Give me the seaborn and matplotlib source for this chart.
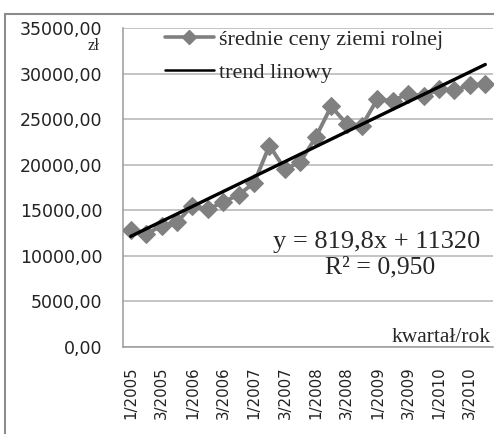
import numpy as np
import pandas as pd
import matplotlib
matplotlib.use('Agg')
import matplotlib.pyplot as plt
import seaborn as sns
from matplotlib.lines import Line2D
from matplotlib.patches import Rectangle

# Quarterly average farmland prices, 1/2005 - 4/2010 (zł per ha)
quarters = [f'{q}/{y}' for y in range(2005, 2011) for q in range(1, 5)]
prices = [12800, 12400, 13300, 13700, 15500, 15100, 15900, 16700,
          18000, 22100, 19500, 20300, 23000, 26400, 24500, 24300,
          27200, 27000, 27800, 27500, 28300, 28200, 28700, 28900]
trend_slope = 819.8
trend_intercept = 11320
r_squared = 0.950

df = pd.DataFrame({'pos': np.arange(len(quarters)), 'kwartal': quarters, 'cena': prices})
df['trend'] = trend_slope * (df['pos'] + 1) + trend_intercept

sns.set_style('white')
plt.rcParams['font.family'] = ['DejaVu Sans']
serif = ['Liberation Serif', 'DejaVu Serif']

fig = plt.figure(figsize=(4.94, 4.34), dpi=100)
ax = fig.add_axes([123 / 494, 87 / 434, 370 / 494, 319 / 434])

# outer chart frame (cropped on right/bottom)
fig.patches.append(Rectangle((5 / 494, -0.1), 1.2, (434 - 14) / 434 + 0.1,
                             transform=fig.transFigure, fill=False,
                             edgecolor='#8c8c8c', linewidth=1.5))

grey = '#808080'
sns.lineplot(data=df, x='pos', y='cena', ax=ax, color=grey, linewidth=2.8,
             marker='D', markersize=9, markeredgecolor=grey, zorder=3)
sns.lineplot(data=df, x='pos', y='trend', ax=ax, color='black', linewidth=2.4, zorder=4)

ax.set_xlim(-0.5, len(quarters) - 0.5)
ax.set_ylim(0, 35000)
ax.set_yticks(np.arange(0, 35001, 5000))
ax.set_yticklabels([f'{v:.2f}'.replace('.', ',') for v in np.arange(0, 35001, 5000)],
                   fontsize=12.5, color='#222222')
ax.set_xticks(df['pos'][::2])
ax.set_xticklabels(df['kwartal'][::2], rotation=90, fontsize=10.8, color='#222222')
ax.set_xticks(np.arange(-0.5, len(quarters), 1), minor=True)
ax.tick_params(axis='x', which='major', length=0, pad=14)
ax.tick_params(axis='x', which='minor', length=4, color='#999999', direction='out')
ax.tick_params(axis='y', length=4, color='#999999', direction='out', pad=11)
ax.set_xlabel('')
ax.set_ylabel('')

ax.grid(axis='y', color='#b4b4b4', linewidth=1.1)
for s in ['top', 'right']:
    ax.spines[s].set_visible(False)
for s in ['left', 'bottom']:
    ax.spines[s].set_color('#9a9a9a')
    ax.spines[s].set_linewidth(1.1)

handles = [Line2D([], [], color=grey, linewidth=2.6, marker='D', markersize=7),
           Line2D([], [], color='black', linewidth=1.8)]
ax.legend(handles, ['średnie ceny ziemi rolnej', 'trend linowy'],
          loc='upper left', bbox_to_anchor=(0.1135, 0.995), frameon=False,
          borderaxespad=0, borderpad=0,
          handlelength=2.2, handletextpad=0.25, labelspacing=0.55,
          prop={'family': serif, 'size': 16})

ax.text(0.965, 0.329, f'y = {trend_slope:.1f}x + {trend_intercept}'.replace('.', ','),
        transform=ax.transAxes, ha='right', va='center', fontsize=19, family=serif)
ax.text(0.695, 0.248, f'R² = {r_squared:.3f}'.replace('.', ','),
        transform=ax.transAxes, ha='center', va='center', fontsize=18.5, family=serif)
ax.text(0.995, 0.03, 'kwartał/rok', transform=ax.transAxes, ha='right', va='center',
        fontsize=15.5, family=serif)
fig.text(100 / 494, 1 - 46 / 434, 'zł', ha='right', va='center', fontsize=12, family=serif)

fig.savefig('out.png', dpi=100)
